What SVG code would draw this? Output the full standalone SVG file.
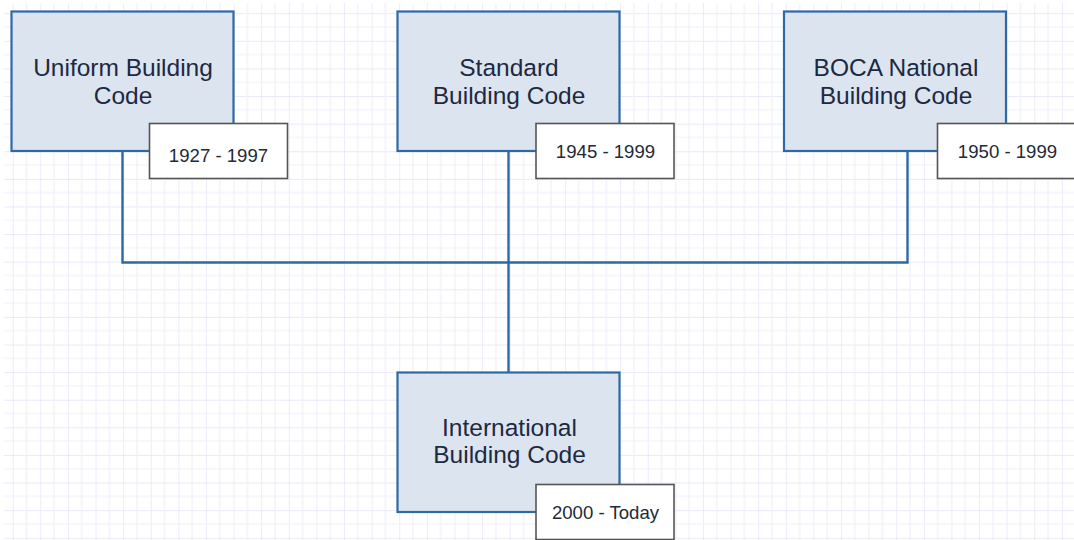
<svg xmlns="http://www.w3.org/2000/svg" width="1074" height="540" viewBox="0 0 1074 540">
  <defs>
    <pattern id="grid" patternUnits="userSpaceOnUse" x="12.7" y="13.2" width="27.61" height="27.61">
      <path d="M0 0V27.61M0 0H27.61" stroke="#e3e3f7" stroke-width="1.3" fill="none"/>
      <path d="M13.8 0V27.61M0 13.8H27.61" stroke="#efeffb" stroke-width="1.2" fill="none"/>
    </pattern>
    <style>
      .code rect { fill: #dce4ef; stroke: #2e69a6; stroke-width: 2.2; }
      .code text { font-family: "Liberation Sans", Arial, sans-serif; font-size: 24.5px; fill: #1d2942; text-anchor: middle; }
      .date rect { fill: #ffffff; stroke: #555555; stroke-width: 1.6; }
      .date text { font-family: "Liberation Sans", Arial, sans-serif; font-size: 18.6px; fill: #222a38; text-anchor: middle; }
      .wire { fill: none; stroke: #2e69a6; stroke-width: 2.4; }
    </style>
  </defs>

  <rect width="1074" height="540" fill="#ffffff"/>
  <rect x="4" y="3" width="1070" height="537" fill="url(#grid)"/>

  <!-- connectors: three predecessor codes merge into the IBC -->
  <g id="connectors">
    <path class="wire" d="M122.5 151V262.5H907.5V151"/>
    <path class="wire" d="M508.5 151V372.5"/>
  </g>

  <g id="ubc">
    <g class="code">
      <rect x="11.5" y="11.5" width="222" height="139.5"/>
      <text x="123" y="76">Uniform Building</text>
      <text x="123" y="103.5">Code</text>
    </g>
    <g class="date">
      <rect x="149.5" y="123.5" width="138" height="55"/>
      <text x="218.5" y="161.5">1927 - 1997</text>
    </g>
  </g>

  <g id="sbc">
    <g class="code">
      <rect x="397.5" y="11.5" width="222" height="139.5"/>
      <text x="509" y="76">Standard</text>
      <text x="509" y="103.5">Building Code</text>
    </g>
    <g class="date">
      <rect x="536" y="123.5" width="138" height="55"/>
      <text x="605.5" y="158">1945 - 1999</text>
    </g>
  </g>

  <g id="boca">
    <g class="code">
      <rect x="784" y="11.5" width="222" height="139.5"/>
      <text x="896" y="76">BOCA National</text>
      <text x="896" y="103.5">Building Code</text>
    </g>
    <g class="date">
      <rect x="937.5" y="123.5" width="138" height="55"/>
      <text x="1007.5" y="157.5">1950 - 1999</text>
    </g>
  </g>

  <g id="ibc">
    <g class="code">
      <rect x="397.5" y="372.5" width="222" height="139.5"/>
      <text x="509.5" y="436">International</text>
      <text x="509.5" y="463">Building Code</text>
    </g>
    <g class="date">
      <rect x="536" y="484.5" width="138" height="55"/>
      <text x="605.5" y="518.5">2000 - Today</text>
    </g>
  </g>
</svg>
